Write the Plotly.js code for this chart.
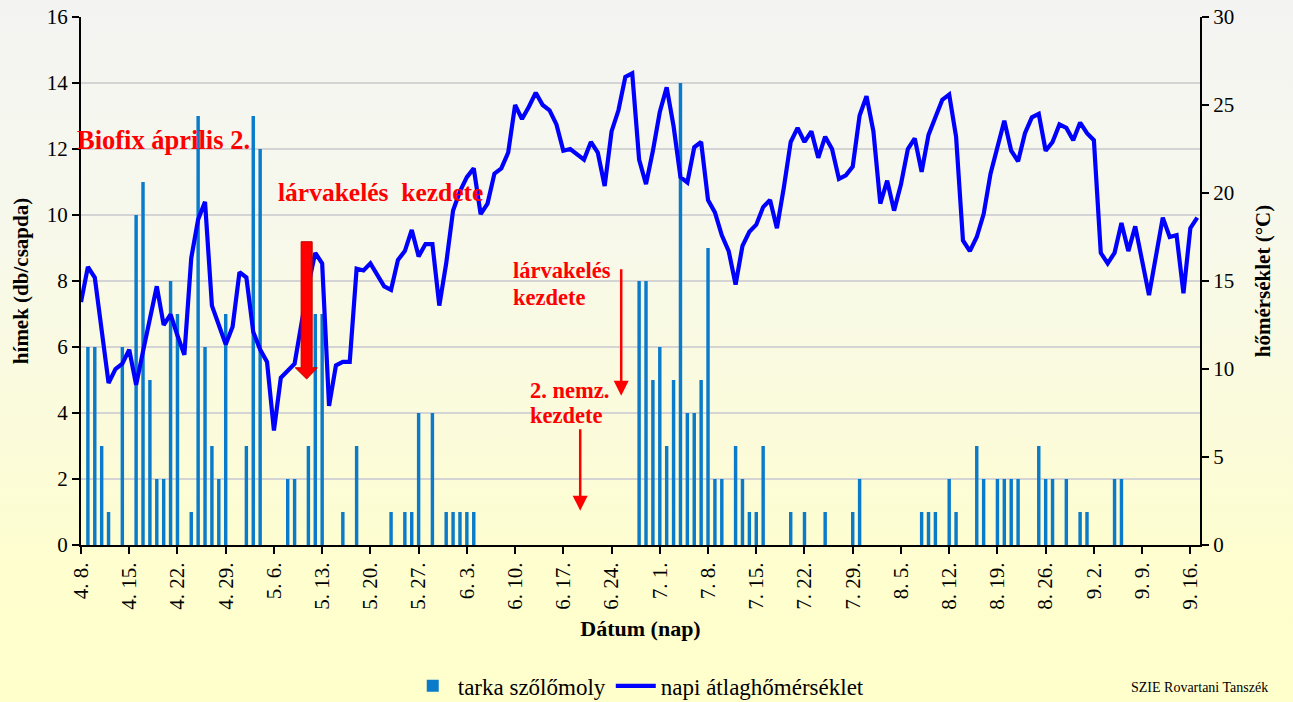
<!DOCTYPE html>
<html><head><meta charset="utf-8">
<script src="https://cdn.plot.ly/plotly-3.0.1.min.js"></script>
<style>
html,body{margin:0;padding:0;width:1293px;height:702px;overflow:hidden;
background:linear-gradient(to bottom,#f3f4f2 0%,#f7f8ec 30%,#fbfbdc 60%,#fefece 82%,#ffffcc 100%);}
#chart{width:1293px;height:702px;}
</style></head><body><div id="chart"></div>
<script>
// Categories: daily dates 4. 8. – 9. 17.
const months = [[4, 8, 30], [5, 1, 31], [6, 1, 30], [7, 1, 31], [8, 1, 31], [9, 1, 17]];
const dates = [];
months.forEach(([m, a, b]) => { for (let d = a; d <= b; d++) dates.push(m + '. ' + d + '.'); });

const tickLabels = ['4. 8.','4. 15.','4. 22.','4. 29.','5. 6.','5. 13.','5. 20.','5. 27.','6. 3.','6. 10.','6. 17.','6. 24.',
  '7. 1.','7. 8.','7. 15.','7. 22.','7. 29.','8. 5.','8. 12.','8. 19.','8. 26.','9. 2.','9. 9.','9. 16.'];

// tarka szőlőmoly – hímek (db/csapda), one value per day
const mothCounts = [
  0,6,6,3,1,0,6,0,10,11, 5,2,2,8,7,0,1,13,6,3, 2,7,0,0,3,13,12,0,0,0,
  2,2,0,3,7,7,0,0,1,0, 3,0,0,0,0,1,0,1,1,4, 0,4,0,1,1,1,1,1,0,0,
  0,0,0,0,0,0,0,0,0,0, 0,0,0,0,0,0,0,0,0,0, 0,8,8,5,6,3,5,14,4,4,
  5,9,2,2,0,3,2,1,1,3, 0,0,0,1,0,1,0,0,1,0, 0,0,1,2,0,0,0,0,0,0,
  0,0,1,1,1,0,2,1,0,0, 3,2,0,2,2,2,2,0,0,3, 2,2,0,2,0,1,1,0,0,0,
  2,2,0,0,0,0,0,0,0,0, 0,0,0
];

// napi átlaghőmérséklet (°C)
const dailyTemp = [
  13.8,15.8,15.2,12.2,9.2,10.0,10.3,11.1,9.1,11.0, 12.8,14.7,12.5,13.1,11.9,10.8,16.3,18.5,19.5,13.6,
  12.5,11.4,12.4,15.5,15.2,12.1,11.1,10.4,6.5,9.5, 9.9,10.3,12.6,14.8,16.6,16.0,7.9,10.2,10.4,10.4,
  15.7,15.6,16.0,15.4,14.7,14.5,16.2,16.7,17.9,16.4, 17.1,17.1,13.6,16.0,19.0,20.1,20.9,21.4,18.8,19.4,
  21.1,21.4,22.3,25.0,24.2,24.9,25.7,25.0,24.7,23.9, 22.4,22.5,22.2,21.9,22.9,22.3,20.4,23.5,24.7,26.6,
  26.8,21.9,20.5,22.4,24.6,26.0,23.8,20.9,20.6,22.6, 22.9,19.6,18.9,17.6,16.7,14.8,17.0,17.8,18.2,19.2,
  19.6,18.0,20.3,22.9,23.7,22.9,23.5,22.0,23.2,22.5, 20.8,21.0,21.5,24.4,25.5,23.5,19.4,20.7,19.0,20.5,
  22.5,23.1,21.2,23.3,24.3,25.3,25.6,23.2,17.3,16.7, 17.5,18.8,21.1,22.6,24.1,22.4,21.8,23.4,24.3,24.5,
  22.4,22.9,23.9,23.7,23.0,24.0,23.4,23.0,16.6,16.0, 16.6,18.3,16.7,18.1,16.2,14.2,16.4,18.6,17.5,17.6,
  14.3,18.0,18.6
];

const xIdx = dates.map((d, i) => i);
const tickVals = tickLabels.map(t => dates.indexOf(t));

const serif = 'Liberation Serif';
const red = '#ff0000';

const traces = [
  { type: 'bar', x: xIdx, y: mothCounts, name: 'tarka szőlőmoly', width: 0.5,
    marker: { color: '#0a7bca', line: { width: 0 } }, yaxis: 'y', hoverinfo: 'skip' },
  { type: 'scatter', mode: 'lines', x: xIdx, y: dailyTemp, name: 'napi átlaghőmérséklet',
    line: { color: '#0000ff', width: 4.2 }, yaxis: 'y2', hoverinfo: 'skip' }
];

const axisCommon = {
  automargin: false,
  showline: true, linecolor: '#000', linewidth: 2, ticks: 'outside', ticklen: 7,
  tickcolor: '#000', tickwidth: 2, zeroline: false,
  tickfont: { family: serif, size: 21, color: '#000' }
};

const layout = {
  width: 1293, height: 702,
  font: { family: serif, color: '#000' },
  margin: { l: 81, r: 93, t: 17, b: 157, autoexpand: false },
  paper_bgcolor: 'rgba(0,0,0,0)', plot_bgcolor: 'rgba(0,0,0,0)',
  showlegend: true,
  legend: { orientation: 'h', xref: 'container', yref: 'container', x: 0.494, xanchor: 'center', y: 0.023, yanchor: 'middle',
    font: { family: serif, size: 23, color: '#000' }, bgcolor: 'rgba(0,0,0,0)', itemwidth: 40 },
  xaxis: Object.assign({}, axisCommon, {
    range: [0, 162.4], tickmode: 'array', tickvals: tickVals, ticktext: tickLabels, tickangle: -90,
    showgrid: false,
    title: { text: '<b>Dátum (nap)</b>', font: { family: serif, size: 22, color: '#000' }, standoff: 12 }
  }),
  yaxis: Object.assign({}, axisCommon, {
    range: [0, 16], tick0: 0, dtick: 2, showgrid: true, gridcolor: '#d4d4d4', gridwidth: 2,
    title: { text: '<b>hímek (db/csapda)</b>', font: { family: serif, size: 21, color: '#000' }, standoff: 12 }
  }),
  yaxis2: Object.assign({}, axisCommon, {
    overlaying: 'y', side: 'right', range: [0, 30], tick0: 0, dtick: 5, showgrid: false,
    title: { text: '<b>hőmérséklet (°C)</b>', font: { family: serif, size: 21, color: '#000' }, standoff: 22 }
  }),
  shapes: [
    { type: 'path', xref: 'x', yref: 'y', layer: 'above',
      path: 'M 31.95,9.19 L 33.55,9.19 L 33.55,5.37 L 34.3,5.37 L 32.75,5.03 L 31.1,5.37 L 31.95,5.37 Z',
      fillcolor: red, line: { color: '#c00000', width: 1 } }
  ],
  annotations: [
    { xref: 'paper', yref: 'y', x: -0.0054, y: 12.27, xanchor: 'left', yanchor: 'middle', showarrow: false,
      text: '<b>Biofix április 2.</b>', font: { family: serif, size: 26.5, color: red } },
    { xref: 'x', yref: 'y', x: 28.3, y: 10.67, xanchor: 'left', yanchor: 'middle', showarrow: false,
      text: '<b>lárvakelés \u00a0kezdete</b>', font: { family: serif, size: 25.5, color: red } },
    { xref: 'x', yref: 'y', x: 62.4, y: 8.31, xanchor: 'left', yanchor: 'middle', showarrow: false,
      text: '<b>lárvakelés</b>', font: { family: serif, size: 22.5, color: red } },
    { xref: 'x', yref: 'y', x: 62.4, y: 7.49, xanchor: 'left', yanchor: 'middle', showarrow: false,
      text: '<b>kezdete</b>', font: { family: serif, size: 22.5, color: red } },
    { xref: 'x', yref: 'y', x: 64.9, y: 4.68, xanchor: 'left', yanchor: 'middle', showarrow: false,
      text: '<b>2. nemz.</b>', font: { family: serif, size: 22.5, color: red } },
    { xref: 'x', yref: 'y', x: 64.9, y: 3.92, xanchor: 'left', yanchor: 'middle', showarrow: false,
      text: '<b>kezdete</b>', font: { family: serif, size: 22.5, color: red } },
    { xref: 'x', yref: 'y', x: 78.4, y: 4.52, axref: 'x', ayref: 'y', ax: 78.4, ay: 8.40, text: '',
      showarrow: true, arrowhead: 2, arrowsize: 1.2, arrowwidth: 2.5, arrowcolor: red, standoff: 0, startstandoff: 0 },
    { xref: 'x', yref: 'y', x: 72.45, y: 1.04, axref: 'x', ayref: 'y', ax: 72.45, ay: 3.55, text: '',
      showarrow: true, arrowhead: 2, arrowsize: 1.2, arrowwidth: 2.5, arrowcolor: red, standoff: 0, startstandoff: 0 },
    { xref: 'paper', yref: 'paper', x: 0.9375, y: -0.2865, xanchor: 'left', yanchor: 'bottom', showarrow: false,
      borderpad: 0, text: 'SZIE Rovartani Tanszék', font: { family: serif, size: 14, color: '#000' } }
  ]
};

Plotly.newPlot('chart', traces, layout, { displayModeBar: false, staticPlot: true });
</script></body></html>
